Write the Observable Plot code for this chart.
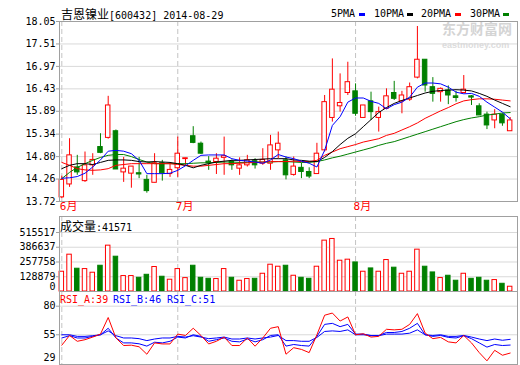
<!DOCTYPE html>
<html>
<head>
<meta charset="utf-8">
<script src="https://cdn.jsdelivr.net/npm/d3@7"></script>
<script src="https://cdn.jsdelivr.net/npm/@observablehq/plot@0.6"></script>
<style>
html,body{margin:0;padding:0;background:#fff;}
#wrap{position:relative;width:520px;height:365px;overflow:hidden;background:#fff;}
#wrap svg{position:absolute;left:0;}
.t{position:absolute;white-space:nowrap;font-family:"DejaVu Sans Mono",monospace;font-size:10px;line-height:14px;color:#000;}
.cjk{font-family:"Noto Sans CJK SC",sans-serif;font-size:12px;}
.sw{position:absolute;width:6px;height:3px;}
.wm{position:absolute;white-space:nowrap;font-family:"Noto Sans CJK SC",sans-serif;font-weight:bold;color:#d4d4d4;}
</style>
</head>
<body>
<div id="wrap"></div>
<script>
// ---------- data ----------
const stockName = "吉恩镍业";
const stockCode = "600432";
const lastDate = "2014-08-29";
const dates = ["06-10","06-11","06-12","06-13","06-16","06-17","06-18","06-19","06-20","06-23","06-24","06-25","06-26","06-27","06-30",
"07-01","07-02","07-03","07-04","07-07","07-08","07-09","07-10","07-11","07-14","07-15","07-16","07-17","07-18","07-21","07-22","07-23","07-24","07-25","07-28","07-29","07-30","07-31",
"08-01","08-04","08-05","08-06","08-07","08-08","08-11","08-12","08-13","08-14","08-15","08-18","08-19","08-20","08-21","08-22","08-25","08-26","08-27","08-28","08-29"];
const monthLabels = ["6月","7月","8月"];
const open = [13.82,14.13,14.54,14.21,14.59,15.03,15.25,15.41,14.42,14.39, 14.40,14.24,14.17,14.64,14.38,14.52,14.74,15.29,15.11,14.68, 14.67,14.77,14.67,14.51,14.59,14.69,14.63,14.63,14.95,14.71, 14.36,14.53,14.43,14.38,14.95,15.73,16.01,16.33,16.37,15.73, 16.13,15.73,15.95,16.33,16.13,16.17,16.70,17.13,16.47,16.35, 16.39,16.25,16.33,16.25,16.01,15.81,15.67,15.81,15.41];
const high = [14.33,15.23,14.83,14.91,14.87,15.35,16.25,15.44,14.78,14.56, 14.78,14.35,14.87,14.71,14.63,15.27,14.76,15.52,15.15,14.80, 14.87,15.27,14.72,14.77,14.83,14.75,14.99,15.31,15.39,14.79, 14.79,14.64,14.53,15.12,16.27,17.15,16.79,17.07,16.55,16.03, 16.35,15.99,16.43,16.61,16.37,16.57,17.93,17.13,16.70,16.45, 16.50,16.37,16.75,16.27,16.07,15.87,15.93,15.83,15.74];
const low = [13.79,14.06,14.35,14.18,14.35,14.87,15.22,14.49,14.18,14.04, 14.27,13.92,14.17,14.21,14.30,14.30,14.59,15.11,14.85,14.47, 14.37,14.35,14.47,14.35,14.55,14.50,14.59,14.47,14.75,14.24, 14.33,14.27,14.27,14.37,14.91,15.63,15.87,16.27,15.77,15.73, 15.67,15.39,15.93,16.15,15.83,16.13,16.67,16.35,16.11,16.11, 16.05,16.11,16.31,16.03,15.79,15.45,15.47,15.53,15.41];
const close = [14.24,14.83,14.42,14.59,14.72,14.89,16.03,14.49,14.51,14.56, 14.37,13.97,14.64,14.40,14.48,14.87,14.76,15.13,14.87,14.64, 14.75,14.81,14.59,14.59,14.71,14.59,14.72,15.07,15.11,14.35, 14.56,14.43,14.32,14.87,16.11,16.41,16.09,16.59,15.83,16.03, 15.87,15.87,16.25,16.19,16.27,16.47,17.13,16.51,16.31,16.43, 16.27,16.21,16.41,16.22,15.79,15.55,15.81,15.60,15.67];
const volume = [172700,321700,199000,196000,164000,225000,400600,304000,135000,135000, 120000,146000,214000,129000,103000,196000,117000,225000,120000,111000, 109000,196000,120000,94000,109000,111000,155000,234000,216500,225000, 137600,120000,111000,216500,444500,459000,269000,278000,254000,172700, 201600,172700,275000,208000,155000,172700,365600,216500,166600,117500, 137600,94000,155000,111000,120000,94000,100000,67500,41571];
const ma5 = [14.28,14.29,14.32,14.40,14.55,14.72,14.93,14.95,14.93,14.87, 14.71,14.39,14.39,14.39,14.40,14.47,14.58,14.71,14.83,14.84, 14.84,14.84,14.75,14.71,14.69,14.67,14.64,14.72,14.85,14.79, 14.75,14.69,14.64,14.55,14.95,15.55,15.76,16.11,16.21,16.21, 16.13,16.08,15.95,16.05,16.11,16.23,16.47,16.57,16.57,16.55, 16.47,16.35,16.31,16.32,16.25,16.11,15.99,15.87,15.71];
const ma10 = [14.51,14.59,14.63,14.63,14.61,14.66,14.71,14.72,14.72,14.71, 14.68,14.67,14.68,14.67,14.66,14.63,14.59,14.53,14.59,14.63, 14.67,14.69,14.71,14.71,14.72,14.73,14.74,14.75,14.75,14.75, 14.72,14.71,14.69,14.68,14.78,14.92,15.09,15.24,15.35,15.52, 15.69,15.86,15.98,16.08,16.15,16.21,16.27,16.33,16.37,16.39, 16.40,16.41,16.40,16.38,16.32,16.25,16.16,16.08,16.00];
const ma20 = [14.66,14.59,14.51,14.48,14.47,14.48,14.51,14.59,14.61,14.63, 14.63,14.63,14.63,14.63,14.63,14.61,14.59,14.57,14.57,14.59, 14.61,14.63,14.63,14.64,14.65,14.66,14.67,14.68,14.68,14.68, 14.69,14.68,14.68,14.71,14.83,14.91,14.99,15.04,15.09,15.15, 15.19,15.23,15.31,15.36,15.44,15.52,15.61,15.72,15.81,15.90, 15.98,16.07,16.14,16.17,16.19,16.19,16.18,16.16,16.14];
const ma30 = [14.27,14.42,14.54,14.63,14.71,14.78,14.83,14.85,14.85,14.80, 14.73,14.67,14.63,14.63,14.63,14.63,14.63,14.64,14.65,14.65, 14.66,14.67,14.67,14.66,14.66,14.67,14.67,14.67,14.68,14.68, 14.67,14.66,14.66,14.68,14.72,14.77,14.81,14.86,14.91,14.96, 15.01,15.07,15.12,15.16,15.22,15.28,15.34,15.40,15.46,15.52, 15.58,15.64,15.69,15.73,15.76,15.80,15.82,15.85,15.86];
const rsiA = [45.9,54.4,49.3,50.7,53.0,55.6,70.1,52.2,45.6,45.9, 44.5,38.0,47.9,47.0,47.0,55.6,54.4,60.7,54.4,47.0, 49.3,53.0,45.6,45.6,52.2,45.0,52.2,60.7,62.1,38.0, 43.7,42.2,39.4,55.0,72.1,74.0,67.0,70.6,55.0,55.9, 53.0,53.6,59.8,59.3,59.8,64.1,73.5,56.5,51.6,52.7, 48.8,47.9,54.4,47.9,39.4,32.2,41.4,37.1,39.0];
const rsiB = [52.2,54.2,52.2,52.2,53.6,55.0,60.7,52.2,47.9,47.9, 47.1,45.1,48.5,47.9,49.3,53.0,52.2,55.0,53.6,49.3, 50.7,52.2,49.3,48.8,51.3,48.8,50.7,54.4,55.0,45.1, 46.5,45.6,45.1,53.6,64.1,65.0,62.1,64.1,55.6,55.6, 54.4,54.4,57.0,57.0,57.9,60.7,65.0,55.0,53.6,54.4, 52.7,52.2,54.2,51.6,47.9,44.2,46.5,45.6,46.0];
const rsiC = [55.0,55.0,53.6,53.6,54.2,55.0,58.4,54.2,52.2,52.2, 51.6,49.9,51.3,52.2,52.2,53.6,53.0,54.2,53.0,51.6, 52.2,53.0,51.3,51.3,52.2,51.3,52.2,53.0,54.4,49.9, 49.9,49.3,49.3,52.7,57.9,58.4,57.9,59.3,55.0,55.0, 54.2,54.2,55.6,55.6,55.6,56.4,59.3,55.0,54.4,55.0, 53.6,53.6,54.4,53.0,51.3,49.9,51.3,50.2,51.0];
const priceTicks = [13.72,14.26,14.80,15.34,15.89,16.43,16.97,17.51,18.05];
const volTicks = [0,128879,257758,386637,515517];
const rsiTicks = [29,55,80];
const maNames = ["5PMA","10PMA","20PMA","30PMA"];

// ---------- build ----------
const RED="#ff0000", GREEN="#008000", BLUE="#0000ff", BLACK="#000000";
const GRID="#d9d9d9", FRAME="#a0a0a0", DASH="#c4c4c4";
const rows = dates.map((d,i)=>({i, d, o:open[i], h:high[i], l:low[i], c:close[i], v:volume[i], up:close[i]>=open[i],
  m5:ma5[i], m10:ma10[i], m20:ma20[i], m30:ma30[i], ra:rsiA[i], rb:rsiB[i], rc:rsiC[i]}));
const monthStarts = rows.filter((r,k)=>k===0 || r.d.slice(0,2)!==rows[k-1].d.slice(0,2)).map(r=>r.i);
const hw = 0.29;
const common = {width:520, marginLeft:59, marginRight:3,
  x:{domain:[-0.3,58.95], axis:null}, color:{type:"identity"},
  style:{background:"transparent", fontFamily:"DejaVu Sans Mono", fontSize:"10px", overflow:"visible"}};
const dashes = () => Plot.ruleX(monthStarts,{stroke:DASH, strokeDasharray:"5,3"});
const col = r => r.up ? RED : GREEN;
const ln = (y, stroke) => Plot.line(rows,{x:"i", y, stroke, strokeWidth:1});

const price = Plot.plot({...common, height:216, marginTop:21, marginBottom:15,
  y:{domain:[13.72,18.05], label:null},
  marks:[
    Plot.ruleY(priceTicks,{stroke:GRID}),
    dashes(),
    Plot.ruleX(rows,{x:"i", y1:"l", y2:"h", stroke:col}),
    Plot.rect(rows,{x1:r=>r.i-hw, x2:r=>r.i+hw, y1:"o", y2:"c", fill:r=>r.up?"#ffffff":GREEN, stroke:col}),
    ln("m30", GREEN),
    ln("m20", RED),
    ln("m10", BLACK),
    ln("m5", BLUE),
    Plot.frame({stroke:FRAME}),
    Plot.axisY({ticks:priceTicks, tickFormat:d=>d.toFixed(2), tickSize:3, tickPadding:1, stroke:FRAME, fill:BLACK, label:null}),
    Plot.text(monthLabels,{x:monthStarts, frameAnchor:"bottom", dy:8, dx:-2, textAnchor:"start", fill:RED, fontSize:11, fontFamily:"DejaVu Sans Mono, Noto Sans CJK SC"})
  ]});

const vol = Plot.plot({...common, height:82, marginTop:5, marginBottom:2,
  y:{domain:[0,655300], label:null},
  marks:[
    Plot.ruleY(volTicks.slice(1),{stroke:GRID}),
    dashes(),
    Plot.rect(rows,{x1:r=>r.i-hw, x2:r=>r.i+hw, y1:0, y2:"v", fill:r=>r.up?"#ffffff":GREEN, stroke:col}),
    Plot.frame({stroke:FRAME}),
    Plot.axisY({ticks:volTicks.slice(1), tickFormat:d=>String(d), tickSize:3, tickPadding:1, stroke:FRAME, fill:BLACK, label:null}),
    Plot.text([String(volTicks[0])],{frameAnchor:"bottom-left", dx:-4, dy:-2, textAnchor:"end", fill:BLACK})
  ]});

const rsi = Plot.plot({...common, height:79, marginTop:5, marginBottom:1,
  y:{domain:[29,92.86], label:null},
  marks:[
    Plot.ruleY(rsiTicks.slice(1),{stroke:GRID}),
    dashes(),
    ln("rc", BLUE),
    ln("rb", BLUE),
    ln("ra", RED),
    Plot.frame({stroke:FRAME}),
    Plot.axisY({ticks:rsiTicks.slice(1), tickFormat:d=>String(d), tickSize:3, tickPadding:1, stroke:FRAME, fill:BLACK, label:null}),
    Plot.text([String(rsiTicks[0])],{frameAnchor:"bottom-left", dx:-4, dy:-4, textAnchor:"end", fill:BLACK})
  ]});

const wrap = document.getElementById("wrap");
function div(cls, html, left, top, extra){
  const e=document.createElement("div"); e.className=cls; e.innerHTML=html;
  e.style.left=left+"px"; e.style.top=top+"px"; if(extra) Object.assign(e.style, extra);
  wrap.appendChild(e); return e;
}
// watermark
div("wm","东方财富网",442,21,{fontSize:"14px",lineHeight:"14px"});
div("wm","eastmoney.com",442,41,{fontSize:"9px",lineHeight:"9px",fontFamily:"Liberation Sans",color:"#dcdcdc"});

price.style.top="0px"; wrap.appendChild(price);
vol.style.top="211px"; wrap.appendChild(vol);
rsi.style.top="286px"; wrap.appendChild(rsi);

// titles and legends
div("t",`<span class="cjk">${stockName}</span>[${stockCode}] ${lastDate}`,61,7);
const legX=[331,374,421,470], swX=[359,407,455,503], swC=[BLUE,BLACK,RED,GREEN];
maNames.forEach((n,k)=>{
  div("t",n,legX[k],7);
  div("sw","",swX[k],13,{background:swC[k]});
});
div("t",`<span class="cjk">成交量</span>:${volume[volume.length-1]}`,60,219);
const last = rows[rows.length-1];
div("t",`RSI_A:${Math.round(last.ra)}`,60,293,{color:RED});
div("t",`RSI_B:${Math.round(last.rb)}`,113,293,{color:BLUE});
div("t",`RSI_C:${Math.round(last.rc)}`,167,293,{color:BLUE});
</script>
</body>
</html>
